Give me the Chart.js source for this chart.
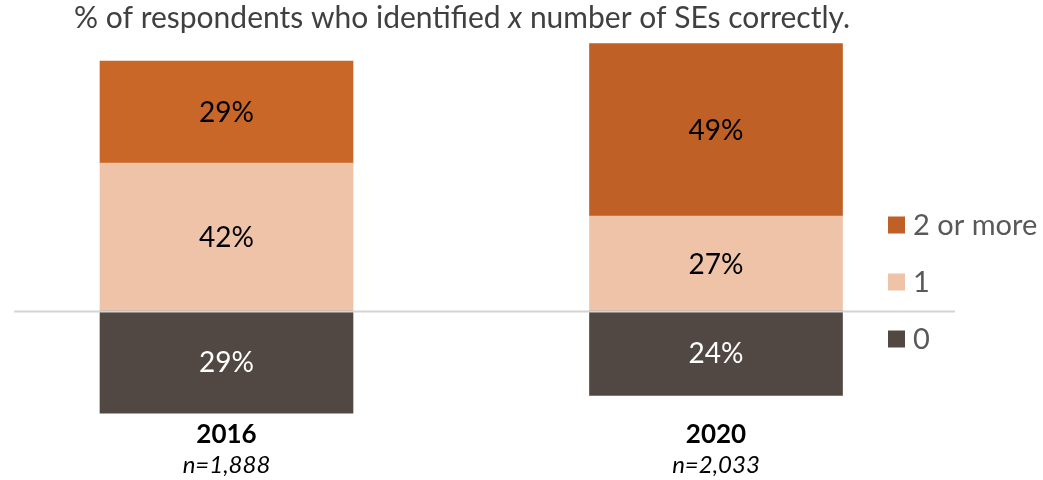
<!DOCTYPE html>
<html>
<head>
<meta charset="utf-8">
<script src="https://cdn.jsdelivr.net/npm/chart.js@4.4.1/dist/chart.umd.min.js"></script>
<style>
  html, body { margin: 0; padding: 0; background: #ffffff; }
  #wrap { width: 1043px; height: 480px; }
</style>
</head>
<body>
<div id="wrap"><canvas id="c" width="1043" height="480"></canvas></div>
<script>
// ---- data ----
const categories = ['2016', '2020'];
const sampleSizes = ['n=1,888', 'n=2,033'];
const zeroCorrect = [29, 24];      // shown below the baseline
const oneCorrect = [42, 27];
const twoOrMore = [29, 49];
const seriesNames = ['0', '1', '2 or more'];

const FONT = 'Lato, "Open Sans", sans-serif';

const titlePlugin = {
  id: 'mixedTitle',
  afterDraw(chart) {
    const ctx = chart.ctx;
    const parts = [
      { t: '% of respondents who identified ', s: 'normal' },
      { t: 'x', s: 'italic' },
      { t: ' number of SEs correctly.', s: 'normal' }
    ];
    ctx.save();
    ctx.fillStyle = '#404040';
    ctx.textBaseline = 'alphabetic';
    let total = 0;
    parts.forEach(p => { ctx.font = p.s + ' 30px ' + FONT; p.w = ctx.measureText(p.t).width; total += p.w; });
    let x = 462 - total / 2;
    parts.forEach(p => { ctx.font = p.s + ' 30px ' + FONT; ctx.fillText(p.t, x, 28); x += p.w; });
    ctx.restore();
  }
};

const baselinePlugin = {
  id: 'baseline',
  afterDatasetsDraw(chart) {
    const y = Math.round(chart.scales.y.getPixelForValue(0)) + 0.5;
    const ctx = chart.ctx;
    ctx.save();
    ctx.strokeStyle = '#D4D4D4';
    ctx.lineWidth = 2;
    ctx.beginPath();
    ctx.moveTo(14, y);
    ctx.lineTo(955, y);
    ctx.stroke();
    ctx.restore();
  }
};

const valueLabelPlugin = {
  id: 'valueLabels',
  afterDatasetsDraw(chart) {
    const ctx = chart.ctx;
    ctx.save();
    ctx.font = '28px ' + FONT;
    ctx.textAlign = 'center';
    ctx.textBaseline = 'middle';
    chart.data.datasets.forEach((ds, di) => {
      const meta = chart.getDatasetMeta(di);
      meta.data.forEach((el, i) => {
        const v = ds.data[i];
        ctx.fillStyle = ds.labelColor;
        ctx.fillText(Math.abs(v) + '%', el.x, (el.y + el.base) / 2 + 1);
      });
    });
    ctx.restore();
  }
};

const legendPlugin = {
  id: 'sideLegend',
  afterDraw(chart) {
    const ctx = chart.ctx;
    const order = [2, 1, 0];
    const centers = [225, 282, 339];
    ctx.save();
    ctx.font = '29px ' + FONT;
    ctx.textBaseline = 'middle';
    ctx.textAlign = 'left';
    order.forEach((di, k) => {
      const ds = chart.data.datasets[di];
      const c = Array.isArray(ds.backgroundColor) ? ds.backgroundColor[1] : ds.backgroundColor;
      ctx.fillStyle = c;
      ctx.fillRect(888, centers[k] - 8.5, 17, 17);
      ctx.fillStyle = '#595959';
      ctx.fillText(ds.label, 913, centers[k] + 1);
    });
    ctx.restore();
  }
};

new Chart(document.getElementById('c'), {
  type: 'bar',
  data: {
    labels: categories,
    datasets: [
      { label: seriesNames[0], data: zeroCorrect.map(v => -v), backgroundColor: '#524843', labelColor: '#ffffff', xAxisID: 'x' },
      { label: seriesNames[1], data: oneCorrect, backgroundColor: '#EEC3A8', labelColor: '#000000', xAxisID: 'x' },
      { label: seriesNames[2], data: twoOrMore, backgroundColor: ['#C86727', '#BF6126'], labelColor: '#000000', xAxisID: 'x' }
    ]
  },
  options: {
    responsive: false,
    animation: false,
    layout: { padding: { top: 29.4, bottom: 3.4, left: 226.5, right: 327 } },
    datasets: { bar: { barThickness: 253, clip: false } },
    plugins: { legend: { display: false }, title: { display: false }, tooltip: { enabled: false } },
    scales: {
      y: { stacked: true, min: -30, max: 80, display: false },
      x: {
        stacked: true, offset: false, position: 'bottom',
        grid: { display: false, drawTicks: false }, border: { display: false },
        ticks: { padding: 2, maxRotation: 0, autoSkip: false, color: '#000000', font: { family: FONT, size: 26, weight: 'bold' } },
        afterFit(s) { s.height = 30; }
      },
      x2: {
        type: 'category', labels: sampleSizes, offset: false, position: 'bottom',
        grid: { display: false, drawTicks: false }, border: { display: false },
        ticks: { padding: 4, maxRotation: 0, autoSkip: false, color: '#000000', font: { family: FONT, size: 24, style: 'italic' } },
        afterFit(s) { s.height = 30; }
      }
    }
  },
  plugins: [titlePlugin, baselinePlugin, valueLabelPlugin, legendPlugin]
});
</script>
</body>
</html>
